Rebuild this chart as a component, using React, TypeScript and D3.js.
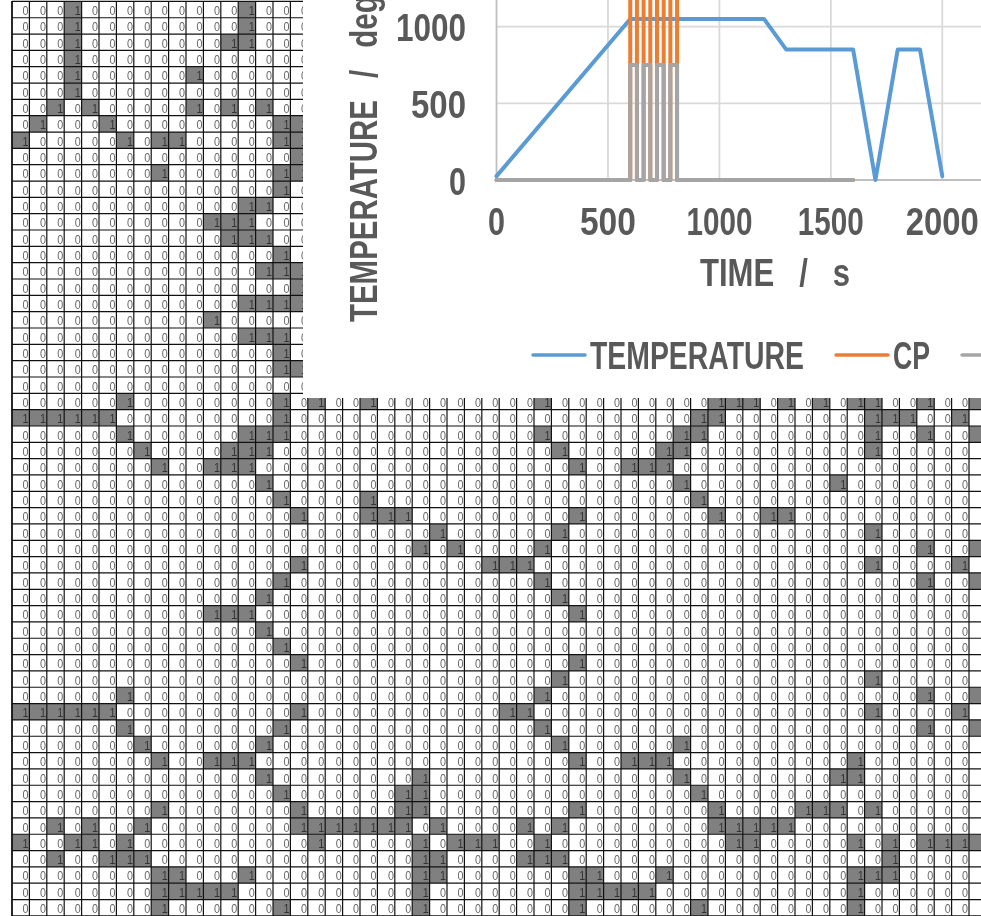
import React from 'react';
import * as d3 from 'd3';

const width = 981;
const height = 916;

// columns holding a 1 in each row of the sheet, everything else is 0
const rowOnes: number[][] = [
  [3, 13], [3, 13], [3, 12, 13], [3], [3, 10], [3],
  [2, 4, 10, 12, 14], [1, 5, 15, 16], [0, 6, 8, 9, 15, 16], [16], [8, 15, 16], [15],
  [13, 14], [11, 12, 13], [12, 13, 14], [15], [14, 15, 16], [16],
  [13, 14, 15, 16], [11], [13, 14, 15], [15], [15, 16], [],
  [6, 15, 17, 20, 30, 40, 41, 42, 44, 46, 48, 49, 52, 55],
  [0, 1, 2, 3, 4, 5, 15, 39, 40, 49, 50, 51, 54],
  [6, 13, 14, 15, 30, 38, 39, 49, 52, 55],
  [7, 12, 13, 14, 31, 37, 38, 49],
  [8, 11, 12, 13, 32, 35, 36, 37],
  [14, 38, 47],
  [15, 20, 39],
  [16, 20, 21, 22, 32, 40, 43, 44],
  [24, 31, 49],
  [23, 25, 30, 52, 55],
  [16, 27, 28, 29, 49, 54],
  [15, 30, 52, 55],
  [14, 31],
  [11, 12, 13, 32],
  [14],
  [15],
  [16, 32],
  [31, 49],
  [6, 30, 52, 55],
  [0, 1, 2, 3, 4, 5, 16, 28, 29, 49, 54],
  [6, 15, 30, 52, 55],
  [7, 14, 31, 38],
  [8, 11, 12, 13, 32, 35, 36, 37, 48],
  [14, 23, 38, 47, 48],
  [15, 22, 23, 39],
  [8, 16, 22, 23, 32, 40, 45, 46, 47, 49],
  [2, 4, 7, 16, 17, 18, 19, 20, 21, 22, 24, 29, 31, 40, 41, 42, 43, 44],
  [0, 3, 4, 6, 17, 23, 25, 26, 27, 30, 41, 42, 48, 50, 52, 53, 54, 55],
  [2, 5, 6, 7, 23, 24, 29, 30, 31, 50],
  [8, 9, 13, 23, 24, 32, 33, 37, 48, 49, 50],
  [8, 9, 10, 11, 12, 23, 32, 33, 34, 35, 36, 48],
  [8, 15, 23, 32, 39, 48],
];

const xTicks = [0, 500, 1000, 1500, 2000, 2500];
const yTicks = [0, 500, 1000];
const xTickWidths = [17, 56, 66, 66, 73];
const yTickWidths = [17, 55, 70];

const tempTime = [0, 600, 1200, 1300, 1600, 1700, 1800, 1900, 2000];
const tempValues = [25, 1050, 1050, 850, 850, 0, 850, 850, 25];

const pulseTime = [0, 600, 600, 630, 630, 660, 660, 690, 690, 720, 720, 750, 750, 780, 780, 810, 810, 1600];
const cpValues = [0, 0, 1500, 1500, 0, 0, 1500, 1500, 0, 0, 1500, 1500, 0, 0, 1500, 1500, 0, 0];
const greyValues = [0, 0, 750, 750, 0, 0, 750, 750, 0, 0, 750, 750, 0, 0, 750, 750, 0, 0];

const BLUE = '#5B9BD5';
const ORANGE = '#ED7D31';
const GREY = '#A5A5A5';
const TEXT = '#595959';
const FONT = '"Liberation Sans", sans-serif';

const col = d3.scaleLinear().domain([0, 56]).range([12, 12 + 56 * 17.4]);
const row = d3.scaleLinear().domain([0, 56]).range([1.4, 1.4 + 56 * 16.33]);

const x = d3.scaleLinear().domain([0, 2000]).range([496.5, 942.3]);
const y = d3.scaleLinear().domain([0, 1000]).range([180, 26.6]);

const path = d3.line<[number, number]>().x((d) => x(d[0])).y((d) => y(d[1]));
const toPairs = (xs: number[], ys: number[]) => xs.map((v, i) => [v, ys[i]] as [number, number]);

export default function App() {
  const rows = d3.range(56);
  const cols = d3.range(56);

  return (
    <svg width={width} height={height} style={{ position: 'absolute', left: 0, top: 0, background: '#fff' }}>
      {/* sheet cells */}
      {rows.map((r) =>
        (rowOnes[r] || []).map((c) => (
          <rect key={r + '-' + c} x={col(c)} y={row(r)} width={col(1) - col(0)} height={row(1) - row(0)} fill="#808080" />
        ))
      )}
      {rows.concat(56).map((r) => (
        <line key={'h' + r} x1={12} x2={width} y1={row(r)} y2={row(r)} stroke="#111" strokeWidth={1.2} />
      ))}
      {cols.concat(56).map((c) => (
        <line key={'v' + c} x1={col(c)} x2={col(c)} y1={1} y2={height} stroke="#111" strokeWidth={c === 0 ? 1.8 : 1.2} />
      ))}
      {/* the last column is cut by the page before its right aligned digit shows */}
      <g fontFamily={FONT} fontSize={13} textAnchor="end" style={{ filter: 'grayscale(1)' }}>
        {rows.map((r) =>
          cols.slice(0, 55).map((c) => {
            const on = (rowOnes[r] || []).includes(c);
            return (
              <text key={r + ':' + c} x={col(c + 1) - 0.9} y={row(r) + 13.6} fill={on ? '#333' : '#666'} textLength={6} lengthAdjust="spacingAndGlyphs">
                {on ? 1 : 0}
              </text>
            );
          })
        )}
      </g>

      {/* chart sits on top of the sheet */}
      <rect x={303} y={0} width={width - 303} height={398} fill="#fff" />
      {xTicks.slice(1).map((t) => (
        <line key={t} x1={x(t)} x2={x(t)} y1={0} y2={180} stroke="#D9D9D9" strokeWidth={1.8} />
      ))}
      {yTicks.slice(1).map((t) => (
        <line key={t} x1={496.5} x2={width} y1={y(t)} y2={y(t)} stroke="#D9D9D9" strokeWidth={1.8} />
      ))}
      <line x1={x(0)} x2={x(0)} y1={0} y2={180} stroke="#BFBFBF" strokeWidth={1.8} />
      <line x1={x(0)} x2={width} y1={180} y2={180} stroke="#BFBFBF" strokeWidth={1.8} />

      <path d={path(toPairs(tempTime, tempValues)) || ''} fill="none" stroke={BLUE} strokeWidth={4} strokeLinecap="round" strokeLinejoin="round" />
      <path d={path(toPairs(pulseTime, cpValues)) || ''} fill="none" stroke={ORANGE} strokeWidth={4} strokeLinecap="round" strokeLinejoin="round" />
      <path d={path(toPairs(pulseTime, greyValues)) || ''} fill="none" stroke={GREY} strokeWidth={4} strokeLinecap="round" strokeLinejoin="round" />

      <g fontFamily={FONT} fontSize={38} fontWeight={700} fill={TEXT} style={{ filter: 'grayscale(1)' }}>
        {xTicks.slice(0, 5).map((t, i) => (
          <text key={t} x={x(t)} y={235} textAnchor="middle" textLength={xTickWidths[i]} lengthAdjust="spacingAndGlyphs">
            {t}
          </text>
        ))}
        {yTicks.map((t, i) => (
          <text key={t} x={466} y={y(t) + 14.5} textAnchor="end" textLength={yTickWidths[i]} lengthAdjust="spacingAndGlyphs">
            {t}
          </text>
        ))}
        <text x={775} y={286} textAnchor="middle" wordSpacing={20} textLength={150} lengthAdjust="spacingAndGlyphs">
          TIME / s
        </text>
        <text transform="translate(377,322) rotate(-90)" wordSpacing={18} textLength={370} lengthAdjust="spacingAndGlyphs">
          TEMPERATURE / deg C
        </text>
        <text x={590} y={369} textLength={214} lengthAdjust="spacingAndGlyphs">
          TEMPERATURE
        </text>
        <text x={893} y={369} textLength={37} lengthAdjust="spacingAndGlyphs">
          CP
        </text>
      </g>
      <line x1={533} x2={585} y1={355} y2={355} stroke={BLUE} strokeWidth={3.5} strokeLinecap="round" />
      <line x1={836} x2={888} y1={355} y2={355} stroke={ORANGE} strokeWidth={3.5} strokeLinecap="round" />
      <line x1={962} x2={1014} y1={355} y2={355} stroke={GREY} strokeWidth={3.5} strokeLinecap="round" />
    </svg>
  );
}
